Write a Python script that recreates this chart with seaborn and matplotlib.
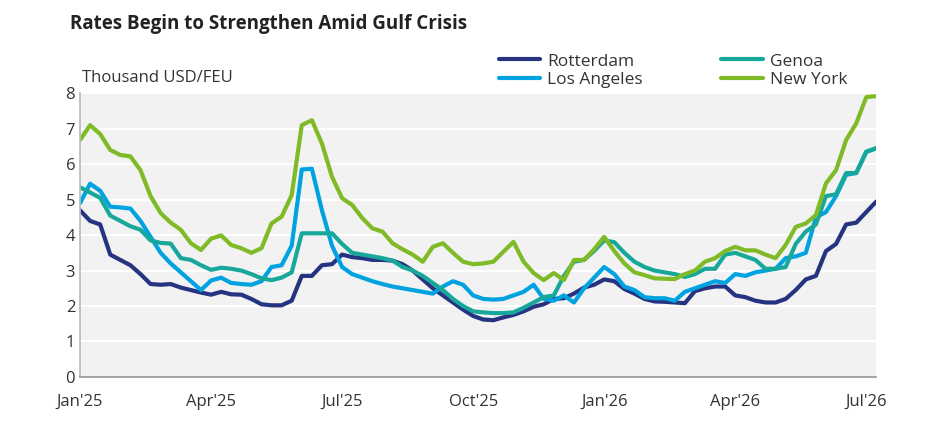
import pandas as pd
import matplotlib.pyplot as plt
import seaborn as sns

# weekly rates, thousand USD/FEU, Jan'25 .. Jul'26
rotterdam = [4.7, 4.4, 4.3, 3.45, 3.3, 3.15, 2.9, 2.62, 2.6, 2.62,
             2.52, 2.45, 2.38, 2.32, 2.4, 2.33, 2.32, 2.2, 2.05, 2.02,
             2.02, 2.15, 2.85, 2.85, 3.15, 3.18, 3.45, 3.38, 3.35, 3.3,
             3.3, 3.28, 3.18, 3.0, 2.75, 2.5, 2.3, 2.1, 1.9, 1.72,
             1.62, 1.6, 1.68, 1.75, 1.85, 1.98, 2.05, 2.2, 2.22, 2.35,
             2.52, 2.6, 2.75, 2.7, 2.48, 2.35, 2.2, 2.13, 2.12, 2.1,
             2.08, 2.42, 2.5, 2.55, 2.55, 2.3, 2.25, 2.15, 2.1, 2.1,
             2.2, 2.45, 2.75, 2.85, 3.55, 3.75, 4.3, 4.35, 4.65, 4.95]
los_angeles = [4.9, 5.45, 5.25, 4.8, 4.78, 4.75, 4.4, 3.95, 3.5, 3.2,
               2.95, 2.7, 2.45, 2.72, 2.8, 2.65, 2.62, 2.6, 2.7, 3.1,
               3.15, 3.7, 5.85, 5.87, 4.7, 3.7, 3.1, 2.9, 2.8, 2.7,
               2.62, 2.55, 2.5, 2.45, 2.4, 2.35, 2.55, 2.7, 2.6, 2.3,
               2.2, 2.18, 2.2, 2.3, 2.4, 2.6, 2.2, 2.15, 2.3, 2.1,
               2.5, 2.8, 3.1, 2.9, 2.55, 2.45, 2.25, 2.22, 2.22, 2.15,
               2.4, 2.5, 2.6, 2.7, 2.65, 2.9, 2.85, 2.95, 3.0, 3.05,
               3.35, 3.4, 3.5, 4.5, 4.65, 5.1, 5.7, 5.75, 6.35, 6.45]
genoa = [5.35, 5.2, 5.05, 4.55, 4.4, 4.25, 4.15, 3.85, 3.78, 3.76,
         3.35, 3.3, 3.15, 3.02, 3.08, 3.05, 3.0, 2.9, 2.78, 2.73,
         2.8, 2.95, 4.05, 4.05, 4.05, 4.05, 3.75, 3.5, 3.45, 3.4,
         3.35, 3.28, 3.1, 3.0, 2.85, 2.65, 2.45, 2.2, 2.0, 1.85,
         1.82, 1.8, 1.8, 1.82, 1.95, 2.1, 2.25, 2.3, 2.85, 3.25,
         3.3, 3.55, 3.85, 3.8, 3.5, 3.25, 3.1, 3.0, 2.95, 2.9,
         2.82, 2.9, 3.05, 3.05, 3.45, 3.5, 3.4, 3.3, 3.05, 3.05,
         3.1, 3.75, 4.1, 4.3, 5.1, 5.15, 5.75, 5.75, 6.35, 6.45]
new_york = [6.68, 7.1, 6.85, 6.4, 6.26, 6.22, 5.83, 5.1, 4.62, 4.35,
            4.15, 3.77, 3.58, 3.9, 3.99, 3.72, 3.63, 3.5, 3.63, 4.33,
            4.52, 5.13, 7.1, 7.24, 6.58, 5.64, 5.04, 4.85, 4.48, 4.19,
            4.1, 3.77, 3.6, 3.45, 3.25, 3.67, 3.77, 3.5, 3.25, 3.18,
            3.2, 3.25, 3.53, 3.81, 3.25, 2.93, 2.73, 2.93, 2.73, 3.3,
            3.3, 3.6, 3.95, 3.55, 3.2, 2.95, 2.87, 2.78, 2.77, 2.76,
            2.9, 3.0, 3.25, 3.35, 3.55, 3.67, 3.57, 3.57, 3.45, 3.35,
            3.72, 4.23, 4.33, 4.56, 5.46, 5.83, 6.68, 7.15, 7.89, 7.92]
tick_weeks = [0, 13, 26, 39, 52, 65, 78]
tick_labels = ["Jan'25", "Apr'25", "Jul'25", "Oct'25", "Jan'26", "Apr'26", "Jul'26"]

series = {'Rotterdam': rotterdam, 'Los Angeles': los_angeles,
          'Genoa': genoa, 'New York': new_york}
colors = {'Rotterdam': '#253381', 'Los Angeles': '#00a3e0',
          'Genoa': '#17a89b', 'New York': '#7fba27'}

df = pd.DataFrame([{'week': i, 'port': p, 'rate': v}
                   for p, vals in series.items() for i, v in enumerate(vals)])

sns.set_theme(style="white")
plt.rcParams['font.family'] = ['Open Sans', 'DejaVu Sans']

fig = plt.figure(figsize=(9.38, 4.44), dpi=100)
ax = fig.add_axes([0.0853, 0.151, 0.849, 0.639])
ax.set_facecolor('#f2f2f2')
sns.lineplot(data=df, x='week', y='rate', hue='port', palette=colors,
             linewidth=3, ax=ax, legend=False)

ax.set_xlim(0, len(rotterdam) - 1)
ax.set_ylim(0, 8)
ax.set_yticks(range(0, 9))
ax.yaxis.grid(True, color='white', linewidth=1.5)
ax.set_axisbelow(True)
ax.set_xticks(tick_weeks)
ax.set_xticklabels(tick_labels)
ax.tick_params(axis='x', length=4, color='#999999', labelsize=12, pad=8, colors='#333333')
ax.tick_params(axis='y', length=0, labelsize=12, colors='#333333')
ax.set_xlabel('')
ax.set_ylabel('')
for s in ['top', 'right']:
    ax.spines[s].set_visible(False)
ax.spines['left'].set_color('#bbbbbb')
ax.spines['bottom'].set_color('#999999')

# legend above plot, two columns
handles = [plt.Line2D([], [], color=colors[p], linewidth=3) for p in series]
fig.legend(handles, list(series.keys()), ncol=2, loc='upper left',
           bbox_to_anchor=(0.515, 0.915), frameon=False, fontsize=12.5,
           handlelength=2.4, handletextpad=0.4, columnspacing=4.5,
           labelspacing=0.15, labelcolor='#333333')

fig.text(0.075, 0.935, 'Rates Begin to Strengthen Amid Gulf Crisis',
         fontsize=13.5, fontweight='bold', color='#222222')
fig.text(0.087, 0.815, 'Thousand USD/FEU', fontsize=12, color='#333333')

fig.savefig('out.png', dpi=100)
